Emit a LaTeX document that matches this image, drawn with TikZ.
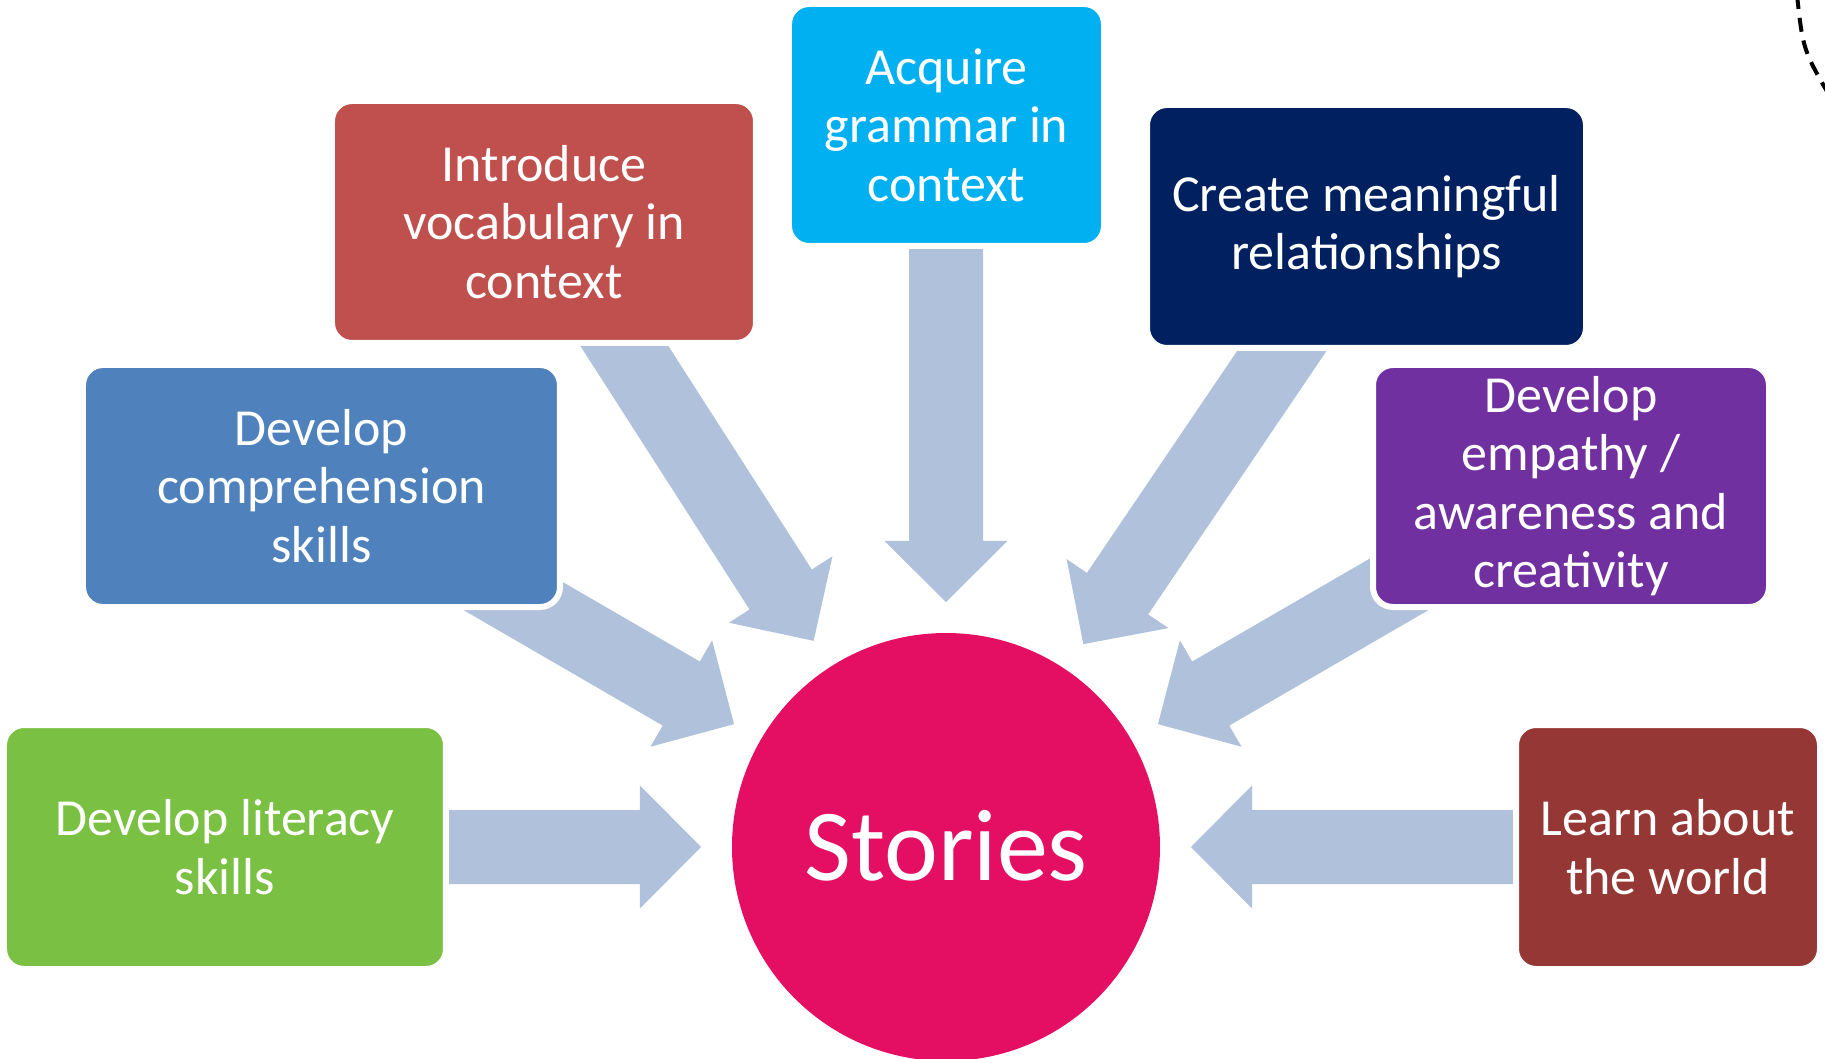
\documentclass[tikz,border=0pt]{standalone}
\usepackage{fontspec}
\setmainfont{Carlito}
\definecolor{arrowc}{HTML}{B0C1DC}
\definecolor{storyc}{HTML}{E40E63}
\definecolor{greenc}{HTML}{7AC143}
\definecolor{bluec}{HTML}{4F81BD}
\definecolor{redc}{HTML}{C0504D}
\definecolor{cyanc}{HTML}{00B0F0}
\definecolor{navyc}{HTML}{002060}
\definecolor{purplec}{HTML}{7030A0}
\definecolor{darkredc}{HTML}{953735}
\tikzset{
  topicbox/.style={rounded corners=20pt, draw=white, line width=6pt, inner sep=0pt,
    align=center, text=white, font=\fontsize{52}{58.5}\selectfont},
  blockarrow/.style={fill=arrowc, draw=none},
}
\newcommand{\radarrow}[3]{%
  \begin{scope}[rotate=#1]
    \coordinate (#3tail) at (#2,0);
    \coordinate (#3tip) at (245,0);
    \fill[blockarrow] (#2,37) -- (306,37) -- (306,61.5) -- (#3tip) -- (306,-61.5) -- (306,-37) -- (#2,-37) -- cycle;
  \end{scope}}
\begin{document}
\begin{tikzpicture}[x=1pt,y=1pt]
  \useasboundingbox (-946,-211) rectangle (879,847);
  \clip (-946,-211) rectangle (879,847);
  \fill[white] (-946,-211) rectangle (879,847);

  % block arrows (drawn first, boxes cover their tails)
  \radarrow{180}{650}{aL}
  \radarrow{149.9}{600}{aB}
  \radarrow{122.7}{650}{aV}
  \radarrow{90}{650}{aG}
  \radarrow{55.9}{650}{aN}
  \radarrow{30.1}{600}{aP}
  \radarrow{0}{650}{aW}

  % centre
  \node[circle, fill=storyc, minimum size=428pt, inner sep=0pt, text=white,
        font=\fontsize{102}{120}\selectfont] (stories) at (0,0) {\raisebox{3pt}{Stories}};

  % topic boxes
  \node[topicbox, fill=greenc, minimum width=442pt, minimum height=244pt] (literacy) at (-721,0)
    {Develop literacy\\skills};
  \node[topicbox, fill=bluec, minimum width=477pt, minimum height=242pt] (compr) at (-624.5,361)
    {Develop\\comprehension\\skills};
  \node[topicbox, fill=redc, minimum width=424pt, minimum height=242pt] (vocab) at (-402,625)
    {Introduce\\vocabulary in\\context};
  \node[topicbox, fill=cyanc, minimum width=315pt, minimum height=242pt] (grammar) at (0.5,722)
    {Acquire\\grammar in\\context};
  \node[topicbox, fill=navyc, minimum width=439pt, minimum height=243pt] (relation) at (420.5,620.5)
    {Create meaningful\\relationships};
  \node[topicbox, fill=purplec, minimum width=396pt, minimum height=242pt] (empathy) at (625,361)
    {Develop\\empathy /\\awareness and\\creativity};
  \node[topicbox, fill=darkredc, minimum width=304pt, minimum height=244pt] (world) at (722,0)
    {Learn about\\the world};

  % dashed arc fragment, top right
  \coordinate (arcA) at (851,852);
  \coordinate (arcB) at (886,747);
  \draw[black, line width=4pt, dash pattern=on 14pt off 9pt] (arcA) .. controls (857,797) .. (arcB);
\end{tikzpicture}
\end{document}
